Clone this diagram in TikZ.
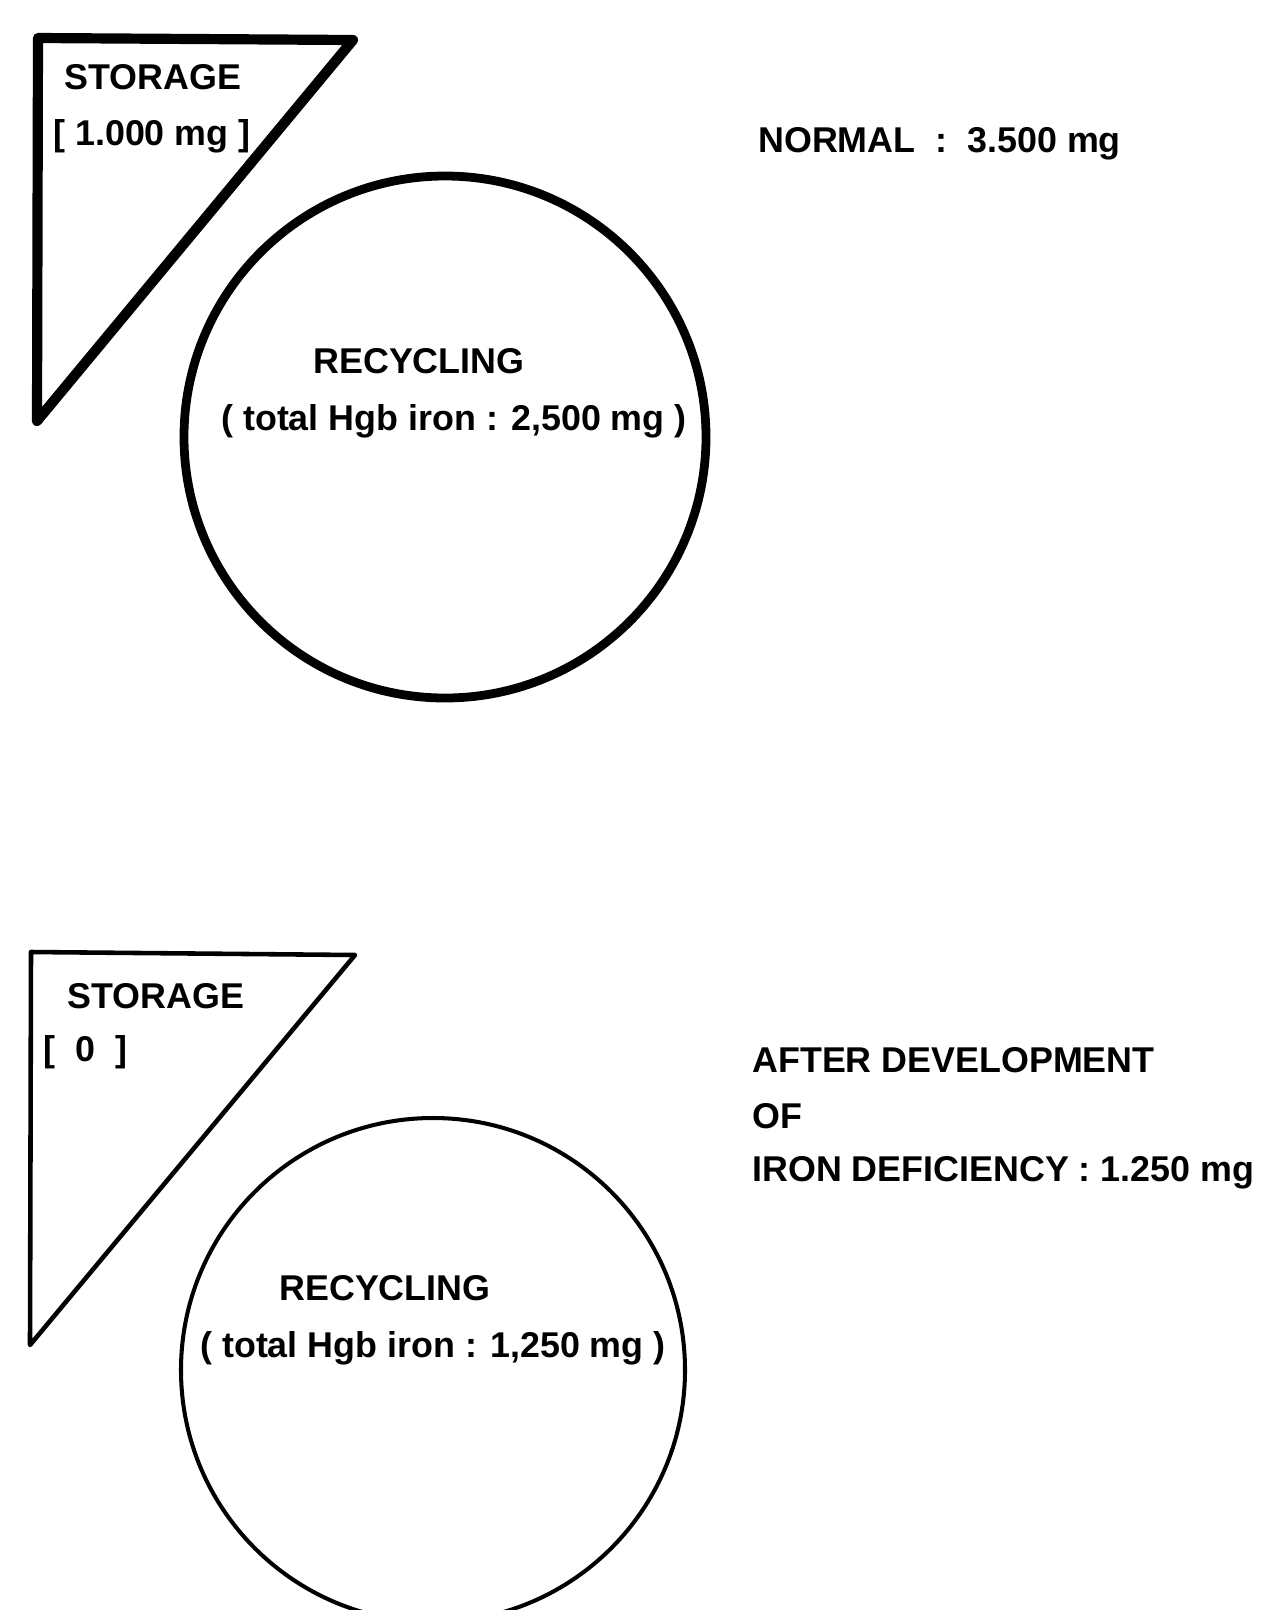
\documentclass[tikz,border=0pt]{standalone}
\usepackage{fontspec}
\setmainfont{Liberation Sans}
\usetikzlibrary{positioning}

\begin{document}
\begin{tikzpicture}[
    x=0.02cm, y=-0.02cm,
    every node/.style={inner sep=0pt, anchor=west, font=\fontsize{20.4}{24}\selectfont\bfseries},
    heavy/.style={line width=5.8pt, line join=round, line cap=round},
    light/.style={line width=2.6pt, line join=round, line cap=round}
]
\useasboundingbox (0,0) rectangle (1280,1610);
\clip (0,0) rectangle (1280,1610);

% Normal
\coordinate (st1nw) at (38,38);
\coordinate (st1ne) at (353,40);
\coordinate (st1sw) at (37,421);
\coordinate (rec1) at (445,437);
\draw [heavy] (st1nw) -- (st1ne) -- (st1sw) -- cycle;
\draw [line width=5pt] (rec1) circle [radius=261];

\node (storage1) at (64,77) {STORAGE};
\node (amount1) at (53,136) {[ 1.000 mg ]};
\node (recycle1) at (313,361) {RECYCLING};
\node (hgb1) at (221,421) {( total Hgb iron : 2,500 mg )};
\node (normal) at (758,144) {NORMAL\ \ :\ \ 3.500 mg};

% Iron deficiency
\coordinate (st2nw) at (31,952);
\coordinate (st2ne) at (355,955);
\coordinate (st2sw) at (30,1345);
\coordinate (rec2) at (433,1370);
\draw [light] (st2nw) -- (st2ne) -- (st2sw) -- cycle;
\draw [line width=2.3pt] (rec2) circle [radius=252];

\node (storage2) at (67,996) {STORAGE};
\node (amount2) at (43,1052) {[\ \ 0\ \ ]};
\node (recycle2) at (279,1288) {RECYCLING};
\node (hgb2) at (200,1348) {( total Hgb iron : 1,250 mg )};
\node (after) at (752,1060) {AFTER DEVELOPMENT};
\node (of) at (752,1116) {OF};
\node (deficiency) at (752,1173) {IRON DEFICIENCY : 1.250 mg};

\end{tikzpicture}
\end{document}
